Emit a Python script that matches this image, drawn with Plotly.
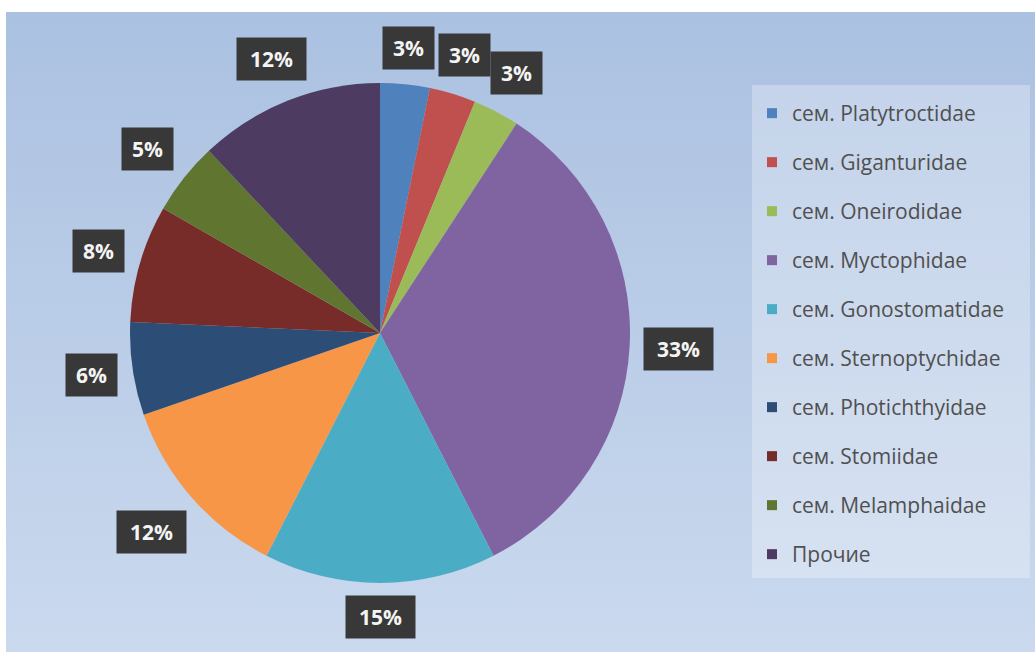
import math
import base64
import plotly.graph_objects as go

# ---- data ----
categories = [
    "сем. Platytroctidae", "сем. Giganturidae", "сем. Oneirodidae",
    "сем. Myctophidae", "сем. Gonostomatidae", "сем. Sternoptychidae",
    "сем. Photichthyidae", "сем. Stomiidae", "сем. Melamphaidae", "Прочие",
]
values = [3.2, 3.0, 3.0, 33.3, 15.0, 12.2, 6.0, 7.6, 4.7, 12.0]
colors = ["#4F81BD", "#C0504D", "#9BBB59", "#8064A2", "#4BACC6",
          "#F79646", "#2C4D75", "#772C2A", "#5F7530", "#4D3B62"]

W, H = 1035, 652
CX, CY, R = 380, 333, 250

fig = go.Figure()

# background gradient (SVG image)
svg = f'''<svg xmlns="http://www.w3.org/2000/svg" width="{W}" height="{H}">
<defs><linearGradient id="g" x1="0" y1="0" x2="0" y2="1">
<stop offset="0" stop-color="#abc1e1"/><stop offset="1" stop-color="#cad9ee"/>
</linearGradient></defs>
<rect width="{W}" height="{H}" fill="#ffffff"/>
<rect x="6" y="12" width="{W-6}" height="{H-12}" fill="url(#g)"/>
</svg>'''
src = "data:image/svg+xml;base64," + base64.b64encode(svg.encode()).decode()

fig.add_trace(go.Pie(
    labels=categories, values=values, sort=False, direction="clockwise",
    rotation=0, marker=dict(colors=colors, line=dict(width=0)),
    textinfo="none", hoverinfo="label+percent", showlegend=False,
    domain=dict(x=[(CX - R) / W, (CX + R) / W], y=[1 - (CY + R) / H, 1 - (CY - R) / H]),
))

# legend entries
for i, (c, col) in enumerate(zip(categories, colors)):
    fig.add_trace(go.Scatter(
        x=[None], y=[None], mode="markers", name=c, legendgroup=str(i),
        marker=dict(symbol="square", size=10, color=col), showlegend=True,
    ))

# percent labels
total = sum(values)
annotations = []
cum = 0
for v in values:
    mid = cum + v / 2
    cum += v
    th = 2 * math.pi * mid / total
    txt = f"{round(v / total * 100)}%"
    bw = 51 if len(txt) == 2 else 69
    bh = 42
    d = R + 13 + (bw / 2) * abs(math.sin(th)) + (bh / 2) * abs(math.cos(th))
    x = CX + d * math.sin(th)
    y = CY - d * math.cos(th)
    annotations.append(dict(
        x=x / W, y=1 - y / H, xref="paper", yref="paper", text=f"<b>{txt}</b>",
        showarrow=False, bgcolor="#383838", borderpad=3, width=bw - 6, height=bh - 6,
        font=dict(family="Open Sans", size=21, color="#f4f4f4"),
        xanchor="center", yanchor="middle",
    ))

fig.update_layout(
    width=W, height=H, margin=dict(l=0, r=0, t=0, b=0),
    paper_bgcolor="white", plot_bgcolor="rgba(0,0,0,0)",
    xaxis=dict(visible=False), yaxis=dict(visible=False),
    images=[dict(source=src, xref="paper", yref="paper", x=0, y=1, sizex=1, sizey=1,
                 sizing="stretch", layer="below", xanchor="left", yanchor="top")],
    shapes=[dict(type="rect", xref="paper", yref="paper",
                 x0=752 / W, x1=1030 / W, y0=1 - 578 / H, y1=1 - 85 / H,
                 fillcolor="rgba(255,255,255,0.28)", line=dict(width=0), layer="below")],
    legend=dict(x=752 / W, y=1 - 93 / H, xanchor="left", yanchor="top",
                bgcolor="rgba(0,0,0,0)", tracegroupgap=18.7, itemwidth=30,
                font=dict(family="Open Sans", size=21, color="#505050")),
    annotations=annotations,
    showlegend=True,
)

fig.write_html("out.html", config={"displayModeBar": False},
               post_script="document.body.style.margin='0';")
